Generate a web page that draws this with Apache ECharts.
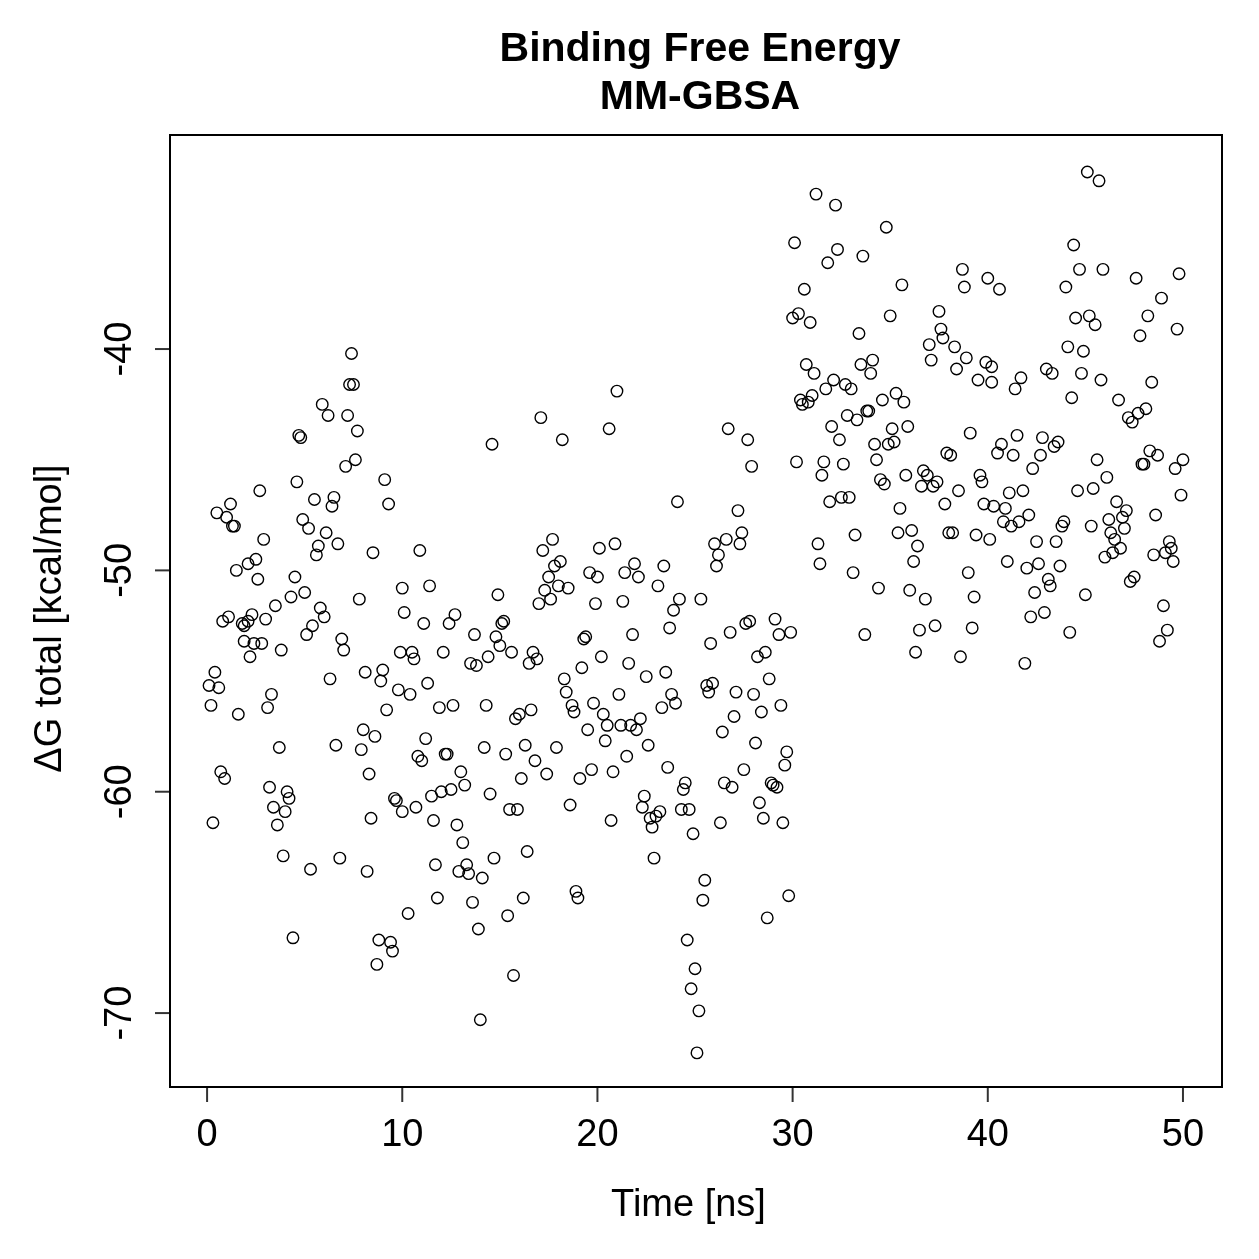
<!DOCTYPE html>
<html>
<head>
<meta charset="utf-8">
<script src="https://cdn.jsdelivr.net/npm/echarts@6/dist/echarts.min.js"></script>
<style>
html, body { margin: 0; padding: 0; background: #fff; }
#main { width: 1259px; height: 1259px; }
</style>
</head>
<body>
<div id="main"></div>
<script>
// time [ns] / dG total [kcal/mol] in 10 ns blocks
var t1 = [7.4,7.3,7.5,5.9,6.2,7.2,7.7,4.7,4.8,7.6,
  7.1,9.1,4.6,2.7,5.5,6.5,6.4,9.3,1.2,0.5,
  1.0,1.3,1.4,4.9,5.2,2.9,6.1,6.7,5.7,5.6,
  8.5,1.5,2.1,2.5,2.6,4.5,5.0,4.3,3.5,7.8,
  10.0,10.1,5.8,6.0,5.4,5.1,3.0,2.3,1.1,0.8,
  1.8,1.9,2.1,1.9,2.4,2.8,2.2,3.8,6.9,7.0,
  9.9,8.1,9.0,8.9,6.3,9.8,0.4,0.1,0.6,3.3,
  0.2,1.6,3.1,3.7,6.6,9.2,8.0,8.6,7.9,0.7,
  0.9,3.2,4.1,4.2,3.4,4.0,3.6,0.3,8.3,9.6,
  9.7,10.0,8.4,3.9,5.3,6.8,8.2,4.4,8.8,9.4,
  9.5,8.7];
var g1 = [-40.2,-41.6,-41.6,-42.5,-43.0,-43.0,-43.7,-43.9,-44.0,-45.0,
  -45.3,-45.9,-46.0,-46.4,-46.8,-46.7,-47.1,-47.0,-47.0,-47.4,
  -47.6,-48.0,-48.0,-47.7,-48.1,-48.6,-48.3,-48.8,-48.9,-49.3,
  -49.2,-50.0,-49.7,-49.5,-50.4,-50.3,-51.0,-51.2,-51.6,-51.3,
  -50.8,-51.9,-51.7,-52.1,-52.5,-52.9,-52.2,-52.0,-52.1,-52.3,
  -52.4,-52.5,-52.3,-53.2,-53.3,-53.3,-53.9,-53.6,-53.1,-53.6,
  -53.7,-54.6,-54.5,-55.0,-54.9,-55.4,-54.6,-55.2,-55.3,-55.6,
  -56.1,-56.5,-56.2,-58.0,-57.9,-56.3,-57.2,-57.5,-58.1,-59.1,
  -59.4,-59.8,-60.0,-60.3,-60.7,-60.9,-61.5,-61.4,-59.2,-60.3,
  -60.4,-60.9,-61.2,-62.9,-63.5,-63.0,-63.6,-66.6,-66.7,-66.8,
  -67.2,-67.8];

var t2 = [17.1,18.2,14.6,10.9,17.7,17.2,20.1,17.8,18.1,17.5,
  19.6,20.0,18.0,18.5,17.3,17.6,17.0,19.9,11.4,11.1,
  12.7,12.4,14.9,15.2,15.1,13.7,14.8,15.0,15.6,14.4,
  13.5,13.8,12.1,10.5,10.6,16.7,16.9,16.5,19.4,19.3,
  20.2,19.2,18.3,18.4,11.3,10.4,11.9,12.6,14.3,15.8,
  16.0,16.6,18.7,18.8,19.8,19.5,11.2,10.8,11.0,12.2,
  12.3,14.2,15.3,16.3,16.8,17.9,13.0,16.1,17.4,19.1,
  19.7,13.2,11.5,12.0,12.5,14.5,10.7,15.5,15.9,18.6,
  11.6,12.8,13.1,14.7,16.4,11.7,13.3,12.9,13.4,14.1,
  18.9,19.0,11.8,13.6,16.2,10.3,15.4,13.9,15.7,14.0];
var g2 = [-43.1,-44.1,-44.3,-49.1,-48.6,-49.1,-49.0,-49.8,-49.6,-50.3,
  -50.1,-50.3,-50.7,-50.8,-50.9,-51.3,-51.5,-51.5,-50.7,-52.4,
  -52.0,-52.4,-51.1,-52.3,-52.4,-52.9,-53.0,-53.4,-53.7,-53.9,
  -54.2,-54.3,-53.7,-53.7,-54.0,-53.7,-54.0,-54.2,-53.0,-53.1,
  -53.9,-54.4,-54.9,-55.5,-55.1,-55.6,-56.2,-56.1,-56.1,-56.7,
  -56.5,-56.3,-56.1,-56.4,-56.0,-57.2,-57.6,-58.4,-58.6,-58.3,
  -58.3,-58.0,-58.3,-57.9,-58.6,-58.0,-59.1,-59.4,-59.2,-59.4,
  -59.0,-59.7,-60.2,-60.0,-59.9,-60.1,-60.7,-60.8,-60.8,-60.6,
  -61.3,-61.5,-62.3,-63.0,-62.7,-63.3,-63.3,-63.6,-63.7,-63.9,
  -64.5,-64.8,-64.8,-65.0,-64.8,-65.5,-65.6,-66.2,-68.3,-70.3];

var t3 = [21.0,20.6,26.7,27.7,27.9,24.1,27.2,27.4,26.6,26.0,
  27.3,26.2,26.1,20.9,21.9,21.4,22.1,23.4,23.1,24.2,
  23.9,25.3,21.3,23.7,21.8,27.6,27.8,26.8,25.8,28.2,
  28.6,21.6,23.5,22.5,28.8,25.6,25.9,25.7,27.1,28.0,
  21.1,23.8,24.0,23.3,29.4,29.1,29.3,29.9,20.3,20.5,
  20.4,21.2,21.7,22.0,22.2,22.6,21.5,20.8,23.6,27.0,
  28.4,26.4,28.1,29.7,29.6,27.5,24.5,24.4,26.5,26.9,
  28.9,29.0,29.2,22.4,22.3,23.2,23.0,22.7,22.8,24.3,
  24.7,20.7,28.3,28.5,29.5,26.3,24.9,22.9,25.5,25.4,
  29.8,28.7,24.6,25.0,24.8,25.2,25.1];
var g3 = [-41.9,-43.6,-43.6,-44.1,-45.3,-46.9,-47.3,-48.3,-48.6,-48.8,
  -48.8,-49.3,-49.8,-48.8,-49.7,-50.1,-50.3,-49.8,-50.7,-51.3,
  -51.8,-51.3,-51.4,-52.6,-52.9,-52.4,-52.3,-52.8,-53.3,-53.9,
  -53.7,-54.2,-54.6,-54.8,-54.9,-55.2,-55.1,-55.5,-55.5,-55.6,
  -55.6,-55.6,-56.0,-56.2,-56.1,-52.2,-52.9,-52.8,-56.5,-57.0,
  -57.7,-57.0,-57.0,-57.2,-56.7,-57.9,-58.4,-59.1,-58.9,-56.6,
  -56.4,-57.3,-57.8,-58.2,-58.8,-59.0,-59.6,-59.9,-59.6,-59.8,
  -59.6,-59.7,-59.8,-60.2,-60.7,-60.9,-61.1,-61.2,-61.6,-60.8,
  -60.8,-61.3,-60.5,-61.2,-61.4,-61.4,-61.9,-63.0,-64.0,-64.9,
  -64.7,-65.7,-66.7,-68.0,-68.9,-69.9,-71.8];

var t4 = [31.2,32.2,34.8,30.1,32.3,33.6,31.8,38.7,40.0,38.8,
  30.6,35.6,37.5,30.0,30.3,30.9,35.0,33.4,37.6,37.7,
  37.0,38.3,37.1,38.9,38.4,39.9,40.2,39.5,40.2,30.7,
  31.1,33.5,34.1,34.0,32.1,31.7,32.7,33.0,30.4,30.5,
  30.8,31.0,34.6,35.3,35.7,33.8,33.9,32.8,33.3,32.0,
  32.4,35.1,35.9,34.2,34.9,35.2,39.1,37.9,38.1,30.2,
  31.6,31.5,32.6,34.3,34.5,34.7,35.8,36.7,36.9,36.6,
  37.2,37.4,38.5,39.6,39.7,31.9,32.5,32.9,35.5,37.8,
  39.8,40.3,33.2,31.3,31.4,33.1,35.4,36.1,36.4,36.2,
  38.0,38.2,39.4,40.1,39.0,34.4,36.0,36.8,39.3,33.7,
  36.5,37.3,39.2,36.3,38.6];
var g4 = [-33.0,-33.5,-34.5,-35.2,-35.5,-35.8,-36.1,-36.4,-36.8,-37.2,
  -37.3,-37.1,-38.3,-38.6,-38.4,-38.8,-38.5,-39.3,-39.1,-39.5,
  -39.8,-39.9,-40.5,-40.4,-40.9,-40.6,-40.8,-41.4,-41.5,-40.7,
  -41.1,-40.7,-40.5,-41.1,-41.4,-41.8,-41.6,-41.8,-42.3,-42.5,
  -42.4,-42.1,-42.3,-42.0,-42.4,-42.8,-42.8,-43.0,-43.2,-43.5,
  -44.1,-43.6,-43.5,-44.3,-44.3,-44.2,-43.8,-44.7,-44.8,-45.1,
  -45.1,-45.7,-45.2,-45.0,-45.9,-46.1,-45.7,-45.5,-45.7,-46.2,
  -46.2,-46.0,-46.4,-45.7,-46.0,-46.9,-46.7,-46.7,-47.2,-47.0,
  -47.0,-47.1,-48.4,-48.8,-49.7,-50.1,-48.3,-48.2,-48.9,-49.6,
  -48.3,-48.3,-48.4,-48.6,-50.1,-50.8,-50.9,-51.3,-51.2,-52.9,
  -52.7,-52.5,-52.6,-53.7,-53.9];

var t5 = [45.1,45.7,44.4,44.7,45.9,47.6,49.8,40.6,44.0,48.9,
  48.2,49.7,47.8,44.5,45.2,45.5,44.1,44.9,43.0,43.3,
  41.7,41.4,44.8,45.8,48.4,44.3,46.7,48.1,47.7,47.2,
  47.4,41.5,40.7,40.5,41.3,42.8,43.6,43.4,42.7,45.6,
  48.3,48.7,50.0,42.3,46.1,44.6,45.4,47.9,48.0,49.6,
  49.9,48.6,41.1,41.8,40.9,40.8,41.2,41.6,42.1,43.9,
  43.8,45.3,46.6,47.1,46.9,46.2,47.0,46.3,46.5,46.8,
  46.4,46.0,42.5,43.5,41.0,42.0,42.6,43.7,43.1,43.2,
  42.4,42.2,42.9,44.2,41.9,45.0,47.3,47.5,48.5,49.1,
  49.3,49.4,49.5,49.0,49.2,48.8];
var g5 = [-32.0,-32.4,-35.3,-36.4,-36.4,-36.8,-36.6,-37.3,-37.2,-37.7,
  -38.5,-39.1,-39.4,-38.6,-38.5,-38.9,-39.9,-40.1,-40.9,-41.1,
  -41.3,-41.8,-41.1,-41.4,-41.5,-42.2,-42.3,-42.7,-42.9,-43.1,
  -43.3,-43.9,-44.3,-44.7,-44.8,-44.0,-44.2,-44.4,-44.8,-45.0,
  -44.6,-44.8,-45.0,-45.4,-45.8,-46.4,-46.3,-45.2,-45.2,-45.4,
  -46.6,-47.5,-46.5,-46.4,-47.2,-47.8,-48.0,-47.8,-47.5,-47.8,
  -48.0,-48.0,-46.9,-47.3,-47.6,-47.7,-48.1,-48.3,-48.6,-49.0,
  -49.2,-49.4,-48.7,-48.7,-49.6,-49.9,-49.7,-49.8,-50.4,-50.7,
  -51.0,-52.1,-51.9,-52.8,-54.2,-51.1,-50.5,-50.3,-49.3,-49.2,
  -48.7,-49.0,-49.6,-51.6,-52.7,-53.2];

var xTicks = [0, 10, 20, 30, 40, 50];
var yTicks = [-70, -60, -50, -40];

var points = [];
[[t1, g1], [t2, g2], [t3, g3], [t4, g4], [t5, g5]].forEach(function (b) {
  for (var i = 0; i < b[0].length; i++) points.push([b[0][i], b[1][i]]);
});

var font = '"Liberation Sans", Arial, Helvetica, sans-serif';
var tickLen = 15;

// box (grid 0): -1.9..52 ns, -73.34..-30.33 kcal/mol over 170..1222 x 135..1087 px
var box = { left: 170, right: 37, top: 135, bottom: 172 };
var xRange = { min: -1.9, max: 52.0 };
var yRange = { min: -73.34, max: -30.33 };
// outer grid (grid 1) reaches tickLen further left and down, same scale, so ticks fall inside it
var xPerPx = (xRange.max - xRange.min) / (1259 - box.left - box.right);
var yPerPx = (yRange.max - yRange.min) / (1259 - box.top - box.bottom);
var xOuterMin = xRange.min - tickLen * xPerPx;
var yOuterMin = yRange.min - tickLen * yPerPx;

var chart = echarts.init(document.getElementById('main'));

chart.setOption({
  animation: false,
  backgroundColor: '#fff',
  title: {
    text: 'Binding Free Energy\nMM-GBSA',
    left: 695,
    top: 21,
    textAlign: 'center',
    textStyle: { fontFamily: font, fontWeight: 'bold', fontSize: 41, lineHeight: 48, color: '#000' }
  },
  grid: [
    { left: box.left, right: box.right, top: box.top, bottom: box.bottom,
      show: true, borderColor: '#000', borderWidth: 2, backgroundColor: 'transparent' },
    { left: box.left - tickLen, right: box.right, top: box.top, bottom: box.bottom - tickLen, show: false }
  ],
  xAxis: [
    { gridIndex: 0, type: 'value', min: xRange.min, max: xRange.max, show: false },
    {
      gridIndex: 1,
      type: 'value',
      min: xOuterMin,
      max: xRange.max,
      name: 'Time [ns]',
      nameLocation: 'middle',
      nameGap: 85,
      nameTextStyle: { fontFamily: font, fontSize: 38, color: '#000' },
      axisLine: { show: false, onZero: false },
      axisTick: { show: false },
      axisLabel: { customValues: xTicks, margin: 15, fontFamily: font, fontSize: 38, color: '#000' },
      splitLine: { show: false }
    }
  ],
  yAxis: [
    { gridIndex: 0, type: 'value', min: yRange.min, max: yRange.max, show: false },
    {
      gridIndex: 1,
      type: 'value',
      min: yOuterMin,
      max: yRange.max,
      name: 'ΔG total [kcal/mol]',
      nameLocation: 'middle',
      nameRotate: 90,
      nameGap: 85,
      nameTextStyle: { fontFamily: font, fontSize: 38, color: '#000' },
      axisLine: { show: false, onZero: false },
      axisTick: { show: false },
      axisLabel: { customValues: yTicks, rotate: 90, margin: 15, fontFamily: font, fontSize: 38, color: '#000',
        formatter: function (v) { return String(v); } },
      splitLine: { show: false }
    }
  ],
  series: [
    {
      type: 'scatter',
      xAxisIndex: 0,
      yAxisIndex: 0,
      data: points,
      symbol: 'circle',
      symbolSize: 11.5,
      silent: true,
      itemStyle: { color: 'rgba(0,0,0,0)', borderColor: '#000', borderWidth: 1.4, opacity: 1 },
      emphasis: { disabled: true }
    },
    {
      // x ticks: hang down from the bottom of the box
      type: 'scatter',
      xAxisIndex: 1,
      yAxisIndex: 1,
      data: xTicks.map(function (v) { return [v, yRange.min]; }),
      symbol: 'rect',
      symbolSize: [2, tickLen],
      symbolOffset: [0, tickLen / 2],
      silent: true,
      itemStyle: { color: '#000' },
      emphasis: { disabled: true }
    },
    {
      // y ticks: stick out left of the box
      type: 'scatter',
      xAxisIndex: 1,
      yAxisIndex: 1,
      data: yTicks.map(function (v) { return [xRange.min, v]; }),
      symbol: 'rect',
      symbolSize: [tickLen, 2],
      symbolOffset: [-tickLen / 2, 0],
      silent: true,
      itemStyle: { color: '#000' },
      emphasis: { disabled: true }
    }
  ]
});
</script>
</body>
</html>
